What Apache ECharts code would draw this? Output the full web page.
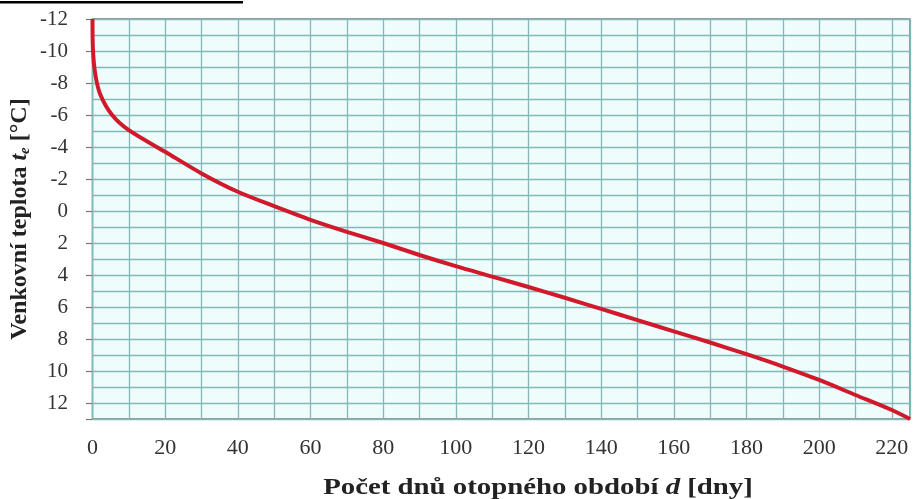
<!DOCTYPE html>
<html>
<head>
<meta charset="utf-8">
<script src="https://cdn.jsdelivr.net/npm/echarts@6/dist/echarts.min.js"></script>
<style>
html,body{margin:0;padding:0;background:#fff;}
#c{width:914px;height:499px;}
</style>
</head>
<body>
<div id="c"></div>
<script>
// Days of heating season (x) and outdoor temperature (y)
var days = [0, 0.1, 0.8, 2.2, 5.4, 10, 20, 30, 40, 50, 60, 70, 80, 90, 100, 110, 120, 130, 140, 150, 160, 170, 180, 190, 200, 210, 220, 225];
var temps = [-12, -10.2, -8.5, -7.25, -6, -5.05, -3.7, -2.35, -1.2, -0.3, 0.55, 1.3, 2.0, 2.75, 3.45, 4.1, 4.75, 5.42, 6.12, 6.82, 7.52, 8.22, 8.95, 9.72, 10.56, 11.5, 12.44, 13];
var xTickLabels = [0, 20, 40, 60, 80, 100, 120, 140, 160, 180, 200, 220];
var yTickLabels = [-12, -10, -8, -6, -4, -2, 0, 2, 4, 6, 8, 10, 12];
var xTitle = ['Počet dnů otopného období ', 'd', ' [dny]'];
var yTitle = ['Venkovní teplota ', 't', 'e', ' [°C]'];

var pts = days.map(function (d, i) { return [d, temps[i]]; });
var serif = '"Liberation Serif", "DejaVu Serif", serif';
var gridPos = {left: 92, right: 4, top: 19, bottom: 80};

var chart = echarts.init(document.getElementById('c'));
chart.setOption({
  animation: false,
  grid: [
    Object.assign({show: true, backgroundColor: '#effcfc', borderColor: '#7a7a7a', borderWidth: 1.5}, gridPos),
    Object.assign({show: false}, gridPos)
  ],
  xAxis: [{
    type: 'value', gridIndex: 0, min: 0, max: 225, interval: 10,
    axisLine: {show: false}, axisTick: {show: false},
    splitLine: {show: true, lineStyle: {color: '#83b8bb', width: 1.3}},
    axisLabel: {
      fontFamily: serif, fontSize: 22, color: '#333', margin: 18,
      formatter: function (v) { return xTickLabels.indexOf(v) >= 0 ? String(v) : ''; }
    }
  }, {
    type: 'value', gridIndex: 1, min: 0, max: 225, show: false
  }],
  yAxis: [{
    type: 'value', gridIndex: 0, min: -12, max: 13, interval: 1, inverse: true,
    axisLine: {show: false}, axisTick: {show: false}, axisLabel: {show: false},
    splitLine: {show: true, lineStyle: {color: '#83b8bb', width: 1.3}},
    name: '{b|' + yTitle[0] + '}{i|' + yTitle[1] + '}{s|' + yTitle[2] + '}{b|' + yTitle[3] + '}',
    nameLocation: 'middle', nameGap: 60, nameRotate: 90,
    nameTextStyle: {
      rich: {
        b: {fontFamily: serif, fontSize: 24, fontWeight: 'bold', color: '#222'},
        i: {fontFamily: serif, fontSize: 24, fontWeight: 'bold', fontStyle: 'italic', color: '#222'},
        s: {fontFamily: serif, fontSize: 15, fontWeight: 'bold', fontStyle: 'italic', color: '#222', verticalAlign: 'bottom', padding: [10, 0, 0, 0]}
      }
    }
  }, {
    type: 'value', gridIndex: 1, min: -12, max: 13, interval: 2, inverse: true,
    axisLine: {show: false},
    axisTick: {show: true, length: 6, lineStyle: {color: '#7a7a7a', width: 1.2}},
    splitLine: {show: false},
    axisLabel: {
      fontFamily: serif, fontSize: 21, color: '#333', margin: 24,
      formatter: function (v) { return yTickLabels.indexOf(v) >= 0 ? String(v) : ''; }
    }
  }],
  graphic: [
    {type: 'rect', shape: {x: 0, y: 1, width: 243, height: 2.5}, style: {fill: '#000'}},
    {
      type: 'text', x: 538, y: 488, scaleX: 1.2,
      style: {
        x: 0, y: 0, align: 'center', verticalAlign: 'middle',
        text: '{b|' + xTitle[0] + '}{i|' + xTitle[1] + '}{b|' + xTitle[2] + '}',
        rich: {
          b: {fontFamily: serif, fontSize: 24, fontWeight: 'bold', fill: '#222'},
          i: {fontFamily: serif, fontSize: 24, fontWeight: 'bold', fontStyle: 'italic', fill: '#222'}
        }
      }
    }
  ],
  series: [{
    type: 'line', xAxisIndex: 0, yAxisIndex: 0,
    data: pts, showSymbol: false, smooth: 0.3,
    lineStyle: {color: '#d01a2c', width: 4},
    z: 5
  }]
});
</script>
</body>
</html>
